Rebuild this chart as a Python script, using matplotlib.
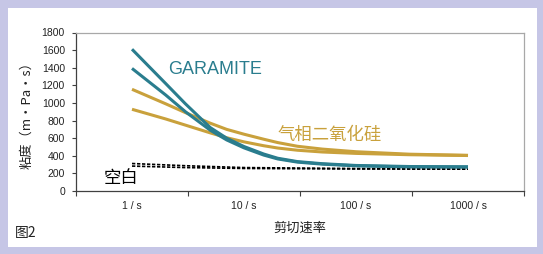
import numpy as np
import matplotlib.pyplot as plt
from matplotlib.patches import Rectangle
from matplotlib.ticker import FixedLocator, NullFormatter

plt.rcParams['font.family'] = ['Liberation Sans', 'Noto Sans CJK SC', 'DejaVu Sans']

# shear rate (1/s)
rates = [1, 2, 3, 5, 7, 10, 15, 20, 30, 50, 100, 300, 1000]

garamite_hi = [1610, 1220, 990, 720, 600, 505, 420, 372, 334, 310, 290, 278, 275]
garamite_lo = [1392, 1090, 900, 690, 580, 490, 408, 364, 328, 305, 286, 274, 272]
silica_hi = [1155, 990, 890, 770, 700, 645, 588, 550, 508, 476, 446, 418, 405]
silica_lo = [928, 818, 748, 660, 605, 558, 514, 488, 463, 443, 427, 412, 403]

blank_rates = [1, 3, 10, 100, 1000]
blank_hi = [312, 287, 266, 255, 251]
blank_lo = [283, 266, 256, 250, 248]

xcats = [1, 10, 100, 1000]
xlabels = ['1 / s', '10 / s', '100 / s', '1000 / s']
yticks = list(range(0, 1801, 200))

teal = '#2a7d8e'
gold = '#c9a13c'
lav = '#c6c6e6'

fig = plt.figure(figsize=(5.43, 2.54), dpi=100, facecolor=lav)
fig.add_artist(Rectangle((8 / 543, 7 / 254), 529 / 543, 239 / 254,
                         transform=fig.transFigure, facecolor='white',
                         edgecolor='none', zorder=-10))

ax = fig.add_axes([76 / 543, 63 / 254, 448 / 543, 158.5 / 254])
ax.set_facecolor('white')

ax.plot(blank_rates, blank_hi, color='black', lw=1.2, ls=(0, (2, 1)))
ax.plot(blank_rates, blank_lo, color='black', lw=1.2, ls=(0, (2, 1)))
ax.plot(rates, silica_hi, color=gold, lw=2.2, solid_capstyle='butt')
ax.plot(rates, silica_lo, color=gold, lw=2.2, solid_capstyle='butt')
ax.plot(rates, garamite_hi, color=teal, lw=2.2, solid_capstyle='butt')
ax.plot(rates, garamite_lo, color=teal, lw=2.2, solid_capstyle='butt')

ax.set_xscale('log')
ax.set_xlim(10 ** -0.5, 10 ** 3.5)
ax.set_ylim(0, 1800)
ax.xaxis.set_major_locator(FixedLocator(xcats))
ax.set_xticklabels(xlabels)
ax.xaxis.set_minor_locator(FixedLocator([10 ** (k - 0.5) for k in range(5)]))
ax.xaxis.set_minor_formatter(NullFormatter())
ax.tick_params(axis='x', which='major', length=0, pad=7, labelsize=7.5, labelcolor='#222222')
ax.tick_params(axis='x', which='minor', length=3.5, color='#404040', width=0.8)
ax.set_yticks(yticks)
ax.tick_params(axis='y', length=3, pad=5, labelsize=7.5, labelcolor='#222222', color='#404040', width=0.8)

for s in ['left', 'bottom']:
    ax.spines[s].set_color('#404040')
    ax.spines[s].set_linewidth(0.9)
for s in ['top', 'right']:
    ax.spines[s].set_color('#a8a8a8')
    ax.spines[s].set_linewidth(0.9)

cjk = ['Noto Sans CJK SC', 'DejaVu Sans']
ax.set_ylabel('粘度（m•Pa•s）', family=cjk, fontsize=9.5, color='#222222', labelpad=6)
ax.set_xlabel('剪切速率', family=cjk, fontsize=9.5, color='#222222', labelpad=8)

fig.text(168 / 543, 1 - 70 / 254, 'GARAMITE', color=teal,
         fontsize=13, va='center', ha='left')
fig.text(278 / 543, 1 - 135 / 254, '气相二氧化硅', family=cjk, color=gold,
         fontsize=12.5, va='center', ha='left')
fig.text(104 / 543, 1 - 178 / 254, '空白', family=cjk, color='black',
         fontsize=12.5, va='center', ha='left')
fig.text(15 / 543, 1 - 233 / 254, '图2', family=cjk, color='#222222',
         fontsize=10, va='center', ha='left', style='italic')

fig.savefig('out.png', dpi=100, facecolor=lav)
